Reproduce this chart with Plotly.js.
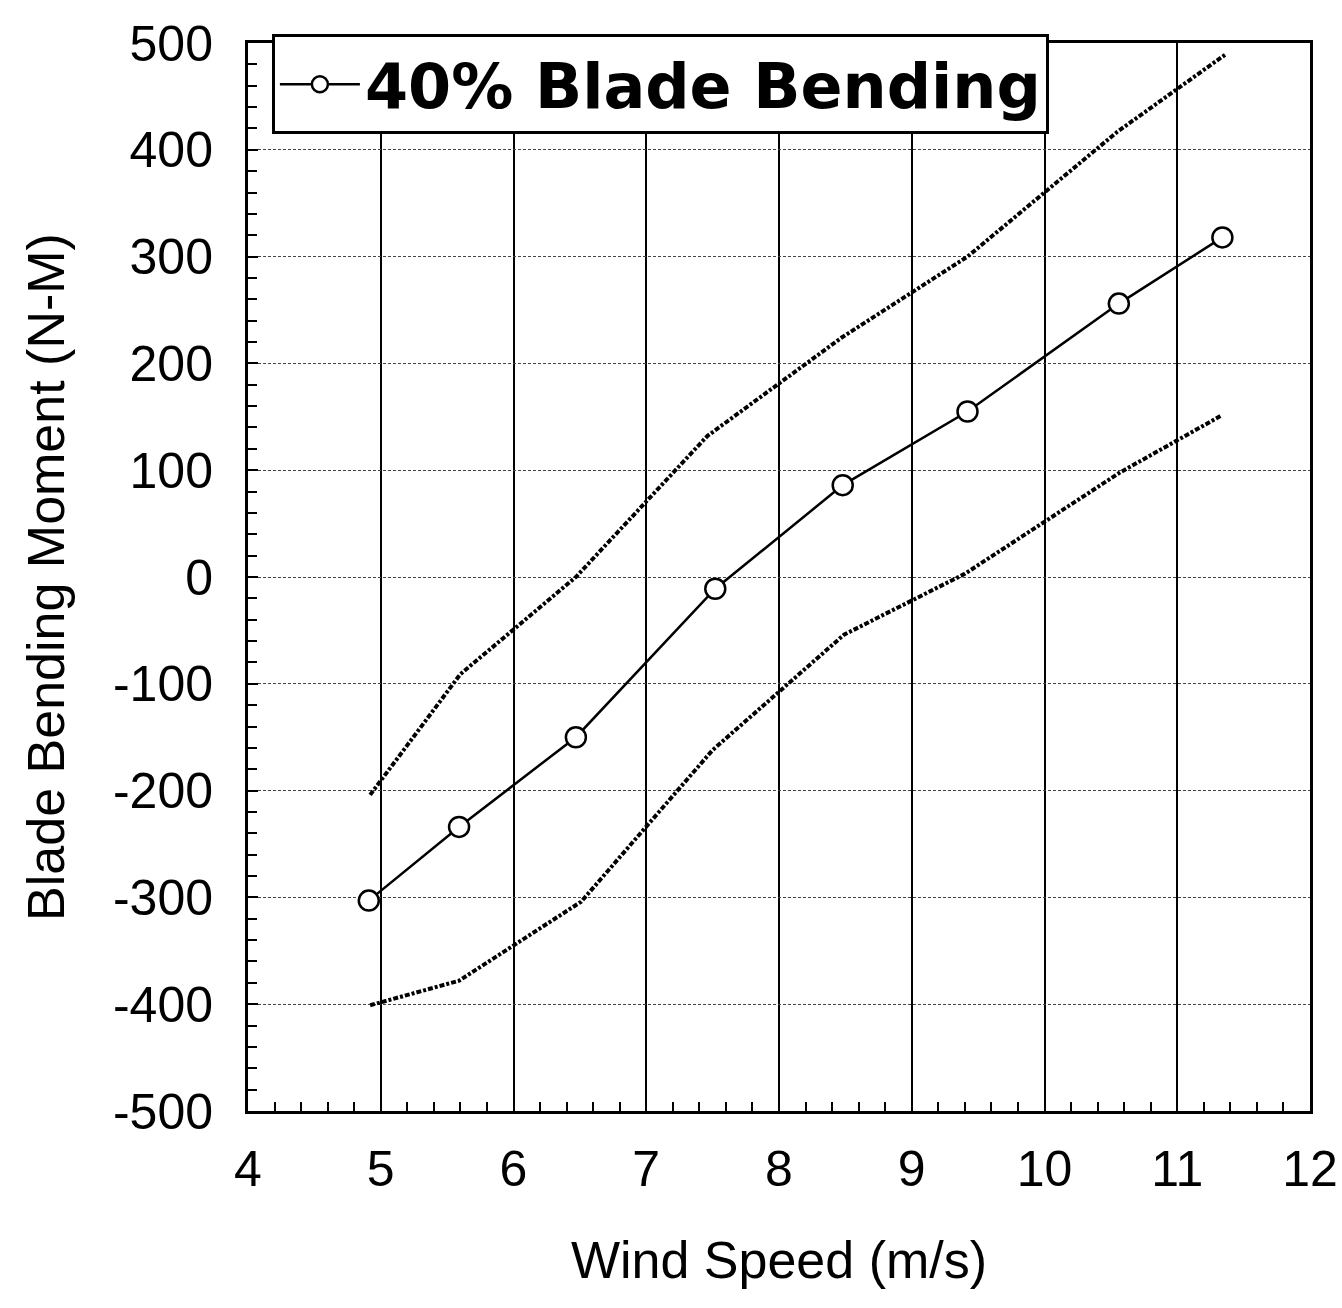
<!DOCTYPE html>
<html>
<head>
<meta charset="utf-8">
<script src="https://cdn.plot.ly/plotly-3.0.1.min.js"></script>
<style>
  html, body { margin: 0; padding: 0; background: #ffffff; }
  #chart { width: 1342px; height: 1308px; }
</style>
</head>
<body>
<div id="chart"></div>
<script>
// Wind speed (m/s) and 40% blade bending moment (N-M)
const windSpeed = [4.91, 5.59, 6.47, 7.52, 8.48, 9.42, 10.56, 11.34];
const bendingMoment = [-303, -234, -150, -11, 86, 155, 256, 318];

// Upper envelope (dash-dot line)
const upperSpeed = [4.92, 5.60, 6.47, 7.46, 8.47, 9.42, 10.55, 11.36];
const upperMoment = [-204, -91, 0, 132, 224, 300, 417, 489];

// Lower envelope (dash-dot line)
const lowerSpeed = [4.92, 5.59, 6.51, 7.50, 8.49, 9.40, 10.57, 11.33];
const lowerMoment = [-401, -378, -304, -162, -54, 3, 98, 151];

const xTicks = [4, 5, 6, 7, 8, 9, 10, 11, 12];
const yTicks = [-500, -400, -300, -200, -100, 0, 100, 200, 300, 400, 500];

const seriesName = '40% Blade Bending';
const xTitle = 'Wind Speed (m/s)';
const yTitle = 'Blade Bending Moment (N-M)';

const envelopeLine = { color: '#000000', width: 4, dash: '5px,2px,3px,2px' };

const traces = [
  {
    x: upperSpeed, y: upperMoment, type: 'scatter', mode: 'lines',
    line: envelopeLine, showlegend: false, hoverinfo: 'x+y'
  },
  {
    x: lowerSpeed, y: lowerMoment, type: 'scatter', mode: 'lines',
    line: envelopeLine, showlegend: false, hoverinfo: 'x+y'
  },
  {
    x: windSpeed, y: bendingMoment, type: 'scatter', mode: 'lines+markers',
    name: seriesName,
    line: { color: '#000000', width: 2.5 },
    marker: { symbol: 'circle', size: 20, color: '#ffffff', line: { color: '#000000', width: 2.5 } }
  }
];

const baseFont = 'Liberation Sans, Arial, Helvetica, sans-serif';

const layout = {
  width: 1342,
  height: 1308,
  paper_bgcolor: '#ffffff',
  plot_bgcolor: '#ffffff',
  margin: { l: 248, r: 32, t: 43, b: 197 },
  font: { family: baseFont, color: '#000000' },
  showlegend: true,
  legend: {
    x: 0.0225, y: 1.008, xanchor: 'left', yanchor: 'top',
    bgcolor: '#ffffff', bordercolor: '#000000', borderwidth: 3,
    font: { family: 'DejaVu Sans, Verdana, sans-serif', size: 62, weight: 'bold', color: '#000000' },
    itemwidth: 80
  },
  xaxis: {
    range: [4, 12],
    tickvals: xTicks,
    ticktext: xTicks.map(String),
    ticks: 'inside', ticklen: 20, tickwidth: 2, tickcolor: '#000000',
    minor: { dtick: 0.2, ticks: 'inside', ticklen: 9, tickwidth: 2, tickcolor: '#000000', showgrid: false },
    showgrid: true, gridcolor: '#000000', gridwidth: 2,
    showline: true, linecolor: '#000000', linewidth: 3, mirror: true,
    zeroline: false,
    ticklabeloverflow: 'allow',
    tickfont: { family: baseFont, size: 50, color: '#000000' },
    ticklabelstandoff: 12,
    title: { text: xTitle, font: { family: baseFont, size: 52, color: '#000000' }, standoff: 46 }
  },
  yaxis: {
    range: [-500, 500],
    tickvals: yTicks,
    ticktext: yTicks.map(String),
    ticks: 'inside', ticklen: 10, tickwidth: 2, tickcolor: '#000000',
    minor: { dtick: 20, ticks: 'inside', ticklen: 9, tickwidth: 2, tickcolor: '#000000', showgrid: false },
    showgrid: true, gridcolor: '#444444', gridwidth: 1, griddash: '3px,2px',
    showline: true, linecolor: '#000000', linewidth: 3, mirror: true,
    zeroline: false,
    ticklabeloverflow: 'allow',
    tickfont: { family: baseFont, size: 50, color: '#000000' },
    ticklabelstandoff: 22,
    title: { text: yTitle, font: { family: baseFont, size: 52, color: '#000000' }, standoff: 32 }
  }
};

Plotly.newPlot('chart', traces, layout, { displayModeBar: false, staticPlot: true });
</script>
</body>
</html>
